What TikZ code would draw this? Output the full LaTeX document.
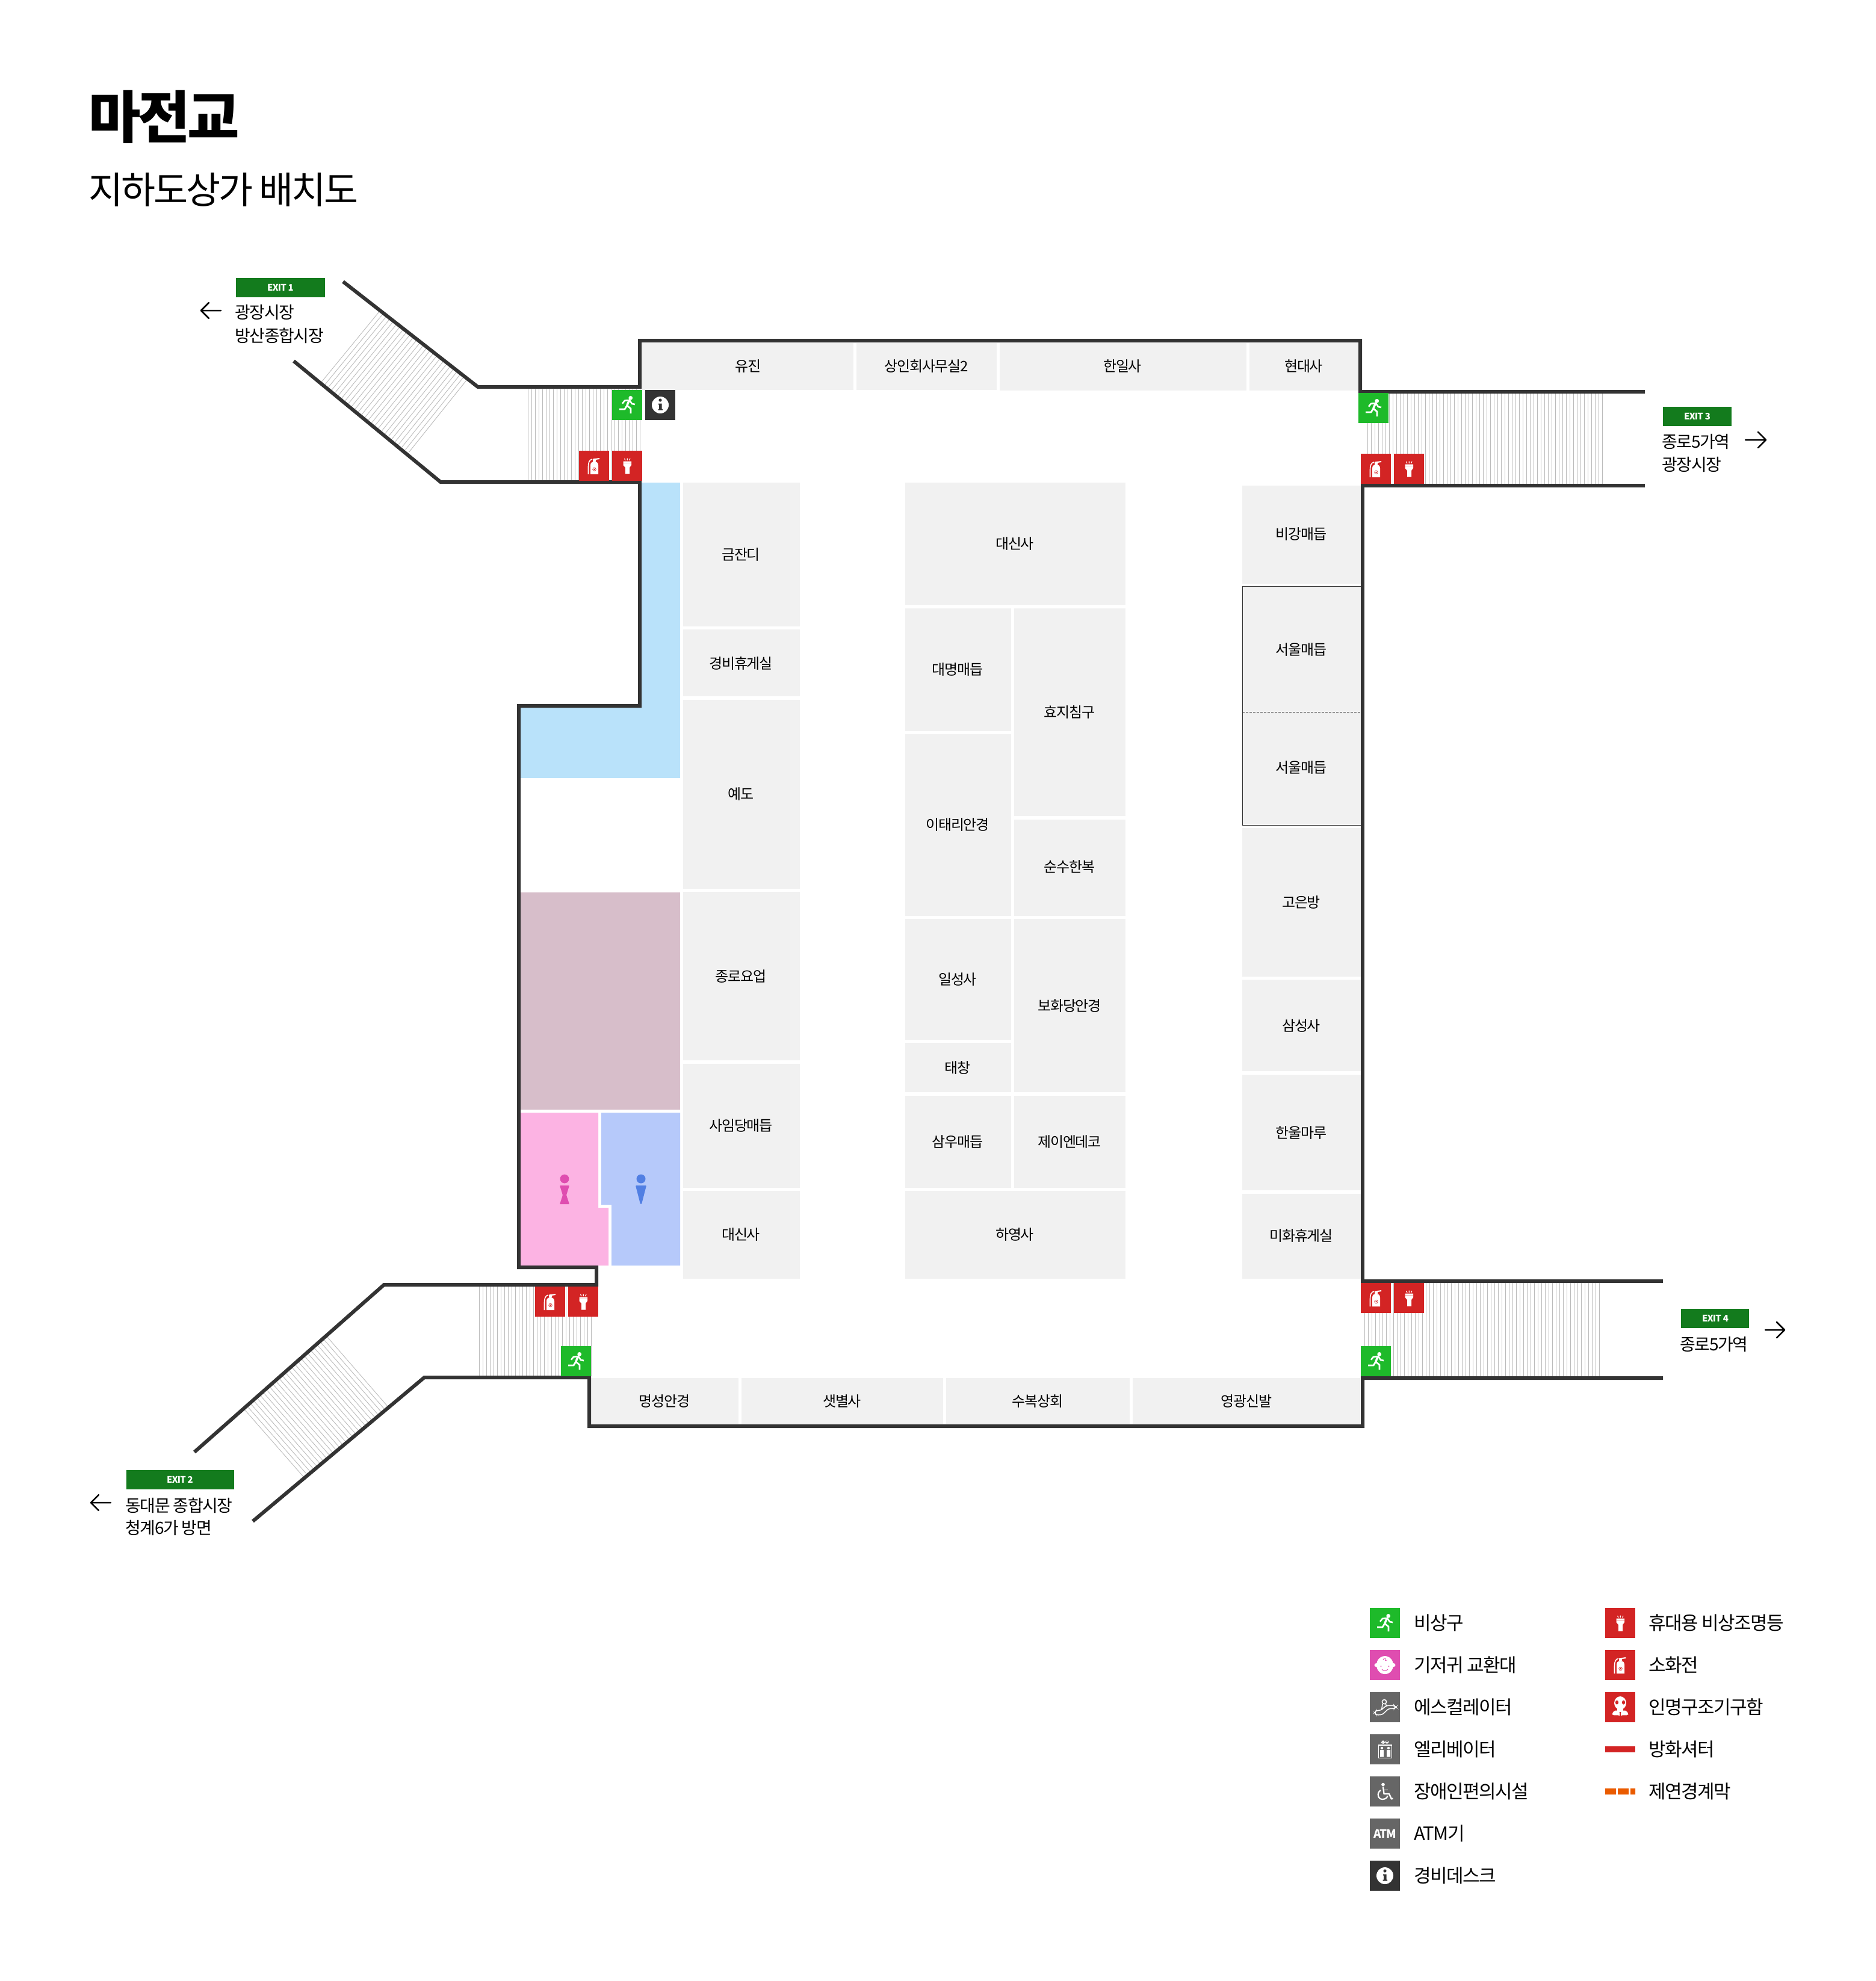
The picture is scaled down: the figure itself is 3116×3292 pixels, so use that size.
\documentclass[tikz,border=0pt]{standalone}
\usepackage{fontspec}
\setmainfont[LetterSpace=-5]{Noto Sans CJK KR}
\newfontfamily\blackfont[LetterSpace=-5]{Noto Sans CJK KR Black}
\definecolor{wallc}{HTML}{333333}
\definecolor{cellc}{HTML}{F1F1F1}
\definecolor{skyc}{HTML}{B9E2FA}
\definecolor{mauvec}{HTML}{D7BECA}
\definecolor{pinkc}{HTML}{FCB3E3}
\definecolor{wcbluec}{HTML}{B6C9FA}
\definecolor{magc}{HTML}{DF4DB0}
\definecolor{manc}{HTML}{517FE3}
\definecolor{exitc}{HTML}{137B1D}
\definecolor{greenc}{HTML}{1EBA2A}
\definecolor{redc}{HTML}{D32424}
\definecolor{greyc}{HTML}{666666}
\definecolor{orangec}{HTML}{EA5B00}
\definecolor{stripec}{HTML}{BBBBBB}
\newcounter{lblno}
\newcommand\cellbox[7]{%
  \fill[cellc] (#1,#2) rectangle (#3,#4);
  \stepcounter{lblno}\node[celltext] (c\arabic{lblno}) at (#5,#6) {#7};}
\usetikzlibrary{arrows.meta}
\tikzset{
  x=.5pt,y=-.5pt,
  wall/.style={draw=wallc,line width=3pt,line cap=butt,line join=miter},
  stripeline/.style={draw=stripec,line width=.45pt},
  celltext/.style={font=\fontsize{12}{12}\selectfont,inner sep=0pt,text height=10.56pt,text depth=.96pt,text=black},
  exittext/.style={font=\fontsize{14}{14}\selectfont,inner sep=0pt,text height=12.32pt,text depth=1.12pt,anchor=west,text=black},
  legendtext/.style={font=\fontsize{15.5}{15.5}\selectfont,inner sep=0pt,text height=13.64pt,text depth=1.24pt,anchor=west,text=black},
  exitbadge/.style={font=\bfseries\fontsize{7.5}{7.5}\selectfont,text=white,inner sep=0pt,text height=5.5pt,text depth=0pt},
  navarrow/.style={draw=black,line width=1.25pt,line cap=round,line join=round},
  pics/runner/.style={code={
    \fill[greenc] (0,0) rectangle (50,50);
    \fill[white] (30.7,13.3) circle[radius=3.4];
    \draw[white,line width=1.3pt,line join=round] (38,24)--(33,23)--(29,17)--(21,17.7)--(17,22.7);
    \draw[white,line width=1.7pt] (28.5,17)--(24.7,26);
    \draw[white,line width=1.4pt,line join=round] (24.7,26)--(31,31)--(31,39);
    \draw[white,line width=1.4pt,line join=round] (24.7,26)--(21,32)--(12,32);
  }},
  pics/fireext/.style={code={
    \fill[redc] (0,0) rectangle (50,50);
    \fill[white] (19,39)--(19,24) .. controls (19,20) and (22,18) .. (25.5,18) .. controls (29,18) and (32,20) .. (32,24)--(32,39)--cycle;
    \draw[white,line width=.8pt] (22,14) .. controls (17,15) and (15.5,20) .. (15.5,26)--(15.5,39);
    \fill[white] (23,13.5)--(34,12)--(34,14)--(28,15)--(28,18)--(23,18)--cycle;
    \draw[redc,line width=.3pt] (25.5,31) circle[radius=2.8];
    \fill[redc] (25.5,31) circle[radius=1.3];
  }},
  pics/torch/.style={code={
    \fill[redc] (0,0) rectangle (50,50);
    \fill[white] (18.5,17.5)--(32,17.5)--(32,24)--(29,28)--(29,38.7)--(22,38.7)--(22,28)--(18.5,24)--cycle;
    \draw[redc!40,line width=.5pt] (18.5,20)--(32,20);
    \draw[white,line width=.6pt] (25.2,12.5)--(25.2,16) (20.5,13)--(22,16) (30,13)--(28.5,16);
  }},
  pics/infobox/.style={code={
    \fill[wallc] (0,0) rectangle (50,50);
    \fill[white] (25,25) circle[radius=14];
    \fill[wallc] (25,17) circle[radius=2.6];
    \fill[wallc] (22,22.5) rectangle (27.5,24.5) (23,22.5) rectangle (27.5,33) (21.5,31.5) rectangle (29,33.5);
  }},
  pics/babyface/.style={code={
    \fill[magc] (0,0) rectangle (50,50);
    \fill[white] (10.5,25) circle[radius=3] (39.5,25) circle[radius=3];
    \fill[white] (25,25) ellipse[x radius=14,y radius=15];
    \fill[magc] (18.5,27) circle[radius=1.1] (31.5,27) circle[radius=1.1];
    \draw[magc,line width=.5pt] (20,32) .. controls (22,35) and (28,35) .. (30,32);
    \draw[magc,line width=.4pt] (22,16) .. controls (23,13) and (28,14) .. (26,16) .. controls (24,18) and (28,18) .. (29,16.5);
  }},
  pics/escal/.style={code={
    \fill[greyc] (0,0) rectangle (50,50);
    \draw[white,line width=.75pt] (24,16) circle[radius=3.6];
    \draw[white,line width=.75pt,line join=round] (21,20)--(19.5,29.5) (26.5,20)--(27.3,22.3);
    \draw[white,line width=.75pt,rounded corners=1.5pt] (10.7,30.3)--(18,30.3)--(27.3,22.3)--(40.7,22.3)--(43,24.7)--(40.7,27.3)--(31.3,27.3)--(20.7,37.3)--(10.7,38)--(8,34)--cycle;
  }},
  pics/elevbox/.style={code={
    \fill[greyc] (0,0) rectangle (50,50);
    \draw[white,line width=.7pt] (14.7,18) rectangle (36.3,39.7);
    \fill[white] (20,23) circle[radius=2.2] (31,23) circle[radius=2.2];
    \fill[white] (17,26) rectangle (23,37.5) (28,26) rectangle (34,37.5);
    \draw[white,line width=.7pt,-{Straight Barb[length=1.5pt,width=3pt]}] (22,16)--(22,10);
    \draw[white,line width=.7pt,-{Straight Barb[length=1.5pt,width=3pt]}] (28.5,10)--(28.5,16);
  }},
  pics/wheelch/.style={code={
    \fill[greyc] (0,0) rectangle (50,50);
    \fill[white] (22,13.5) circle[radius=2.8];
    \draw[white,line width=1.2pt,line join=round] (22,17)--(23.5,29)--(32,29)--(36,37.5)--(38.5,36.5);
    \draw[white,line width=.7pt] (23,22.5)--(30,22.5);
    \draw[white,line width=1.1pt] (18,23) .. controls (11,27) and (13,38) .. (21,38) .. controls (26,38) and (29,35) .. (29.5,32);
  }},
  pics/atmbox/.style={code={
    \fill[greyc] (0,0) rectangle (50,50);
    \node[font=\bfseries\fontsize{9.5}{9.5}\selectfont,text=white,inner sep=0pt] (atmglyph) at (25,25) {ATM};
  }},
  pics/maskbox/.style={code={
    \fill[redc] (0,0) rectangle (50,50);
    \fill[white] (25,18) ellipse[x radius=10,y radius=11];
    \fill[white] (20,25) rectangle (30,33);
    \fill[white] (11.5,37) .. controls (12,31) and (20,27) .. (24,34) -- (24,39) .. controls (20,37) and (15,40) .. (11.5,37) -- cycle;
    \fill[white] (38.5,37) .. controls (38,31) and (30,27) .. (26,34) -- (26,39) .. controls (30,37) and (35,40) .. (38.5,37) -- cycle;
    \fill[redc] (19.5,17) ellipse[x radius=2.6,y radius=3.5] (30.5,17) ellipse[x radius=2.6,y radius=3.5];
  }},
}
\begin{document}
\begin{tikzpicture}
\useasboundingbox (0,0) rectangle (3116,3292);
\fill[white] (0,0) rectangle (3116,3292);
% title
\node[anchor=west,inner sep=0pt,text height=41.4pt,text depth=3.8pt,font=\blackfont\fontsize{47}{47}\selectfont] (title) at (147,192) {마전교};
\node[anchor=west,inner sep=0pt,text height=27.3pt,text depth=2.5pt,font=\fontsize{31}{31}\selectfont] (subtitle) at (147,314) {지하도상가 배치도};
% coloured rooms
\fill[skyc] (1066,802) rectangle (1130,1293);
\fill[skyc] (865,1176) rectangle (1130,1293);
\fill[mauvec] (865,1483) rectangle (1130,1844);
\fill[pinkc] (865,1849)--(994,1849)--(994,2007)--(1011,2007)--(1011,2103)--(865,2103)--cycle;
\fill[wcbluec] (999,1849)--(1130,1849)--(1130,2103)--(1016,2103)--(1016,2002)--(999,2002)--cycle;
\fill[magc] (938,1959) circle[radius=7.4];
\fill[magc,rounded corners=.5pt] (930,1970)--(946,1970)--(941,1986)--(946,2001)--(930,2001)--(935,1986)--cycle;
\fill[manc] (1065,1959) circle[radius=7.5];
\fill[manc,rounded corners=.5pt] (1056,1970)--(1074,1970)--(1066,2001)--(1064,2001)--cycle;
% top row
\cellbox{1066}{570}{1418}{648}{1243}{608}{유진}
\cellbox{1423}{570}{1656}{648}{1539}{608}{상인회사무실2}
\cellbox{1661}{570}{2071}{649}{1865}{608}{한일사}
\cellbox{2076}{570}{2257}{649}{2166}{608}{현대사}
% column A
\cellbox{1135}{802}{1329}{1041}{1231}{921}{금잔디}
\cellbox{1135}{1046}{1329}{1157}{1231}{1102}{경비휴게실}
\cellbox{1135}{1163}{1329}{1477}{1231}{1319}{예도}
\cellbox{1135}{1482}{1329}{1762}{1231}{1622}{종로요업}
\cellbox{1135}{1768}{1329}{1974}{1231}{1870}{사임당매듭}
\cellbox{1135}{1979}{1329}{2125}{1231}{2051}{대신사}
% column B
\cellbox{1504}{802}{1870}{1005}{1686}{903}{대신사}
\cellbox{1504}{1011}{1680}{1215}{1591}{1112}{대명매듭}
\cellbox{1504}{1220}{1680}{1522}{1591}{1370}{이태리안경}
\cellbox{1685}{1011}{1870}{1356}{1777}{1183}{효지침구}
\cellbox{1685}{1362}{1870}{1522}{1777}{1440}{순수한복}
\cellbox{1504}{1527}{1680}{1728}{1591}{1627}{일성사}
\cellbox{1504}{1733}{1680}{1815}{1591}{1774}{태창}
\cellbox{1685}{1527}{1870}{1815}{1777}{1671}{보화당안경}
\cellbox{1504}{1821}{1680}{1974}{1591}{1897}{삼우매듭}
\cellbox{1685}{1821}{1870}{1974}{1777}{1897}{제이엔데코}
\cellbox{1504}{1979}{1870}{2125}{1686}{2051}{하영사}
% column C
\cellbox{2064}{807}{2261}{970}{2162}{887}{비강매듭}
\fill[cellc,draw=wallc,line width=.5pt] (2064,974) rectangle (2261,1371);
\draw[wallc,line width=.5pt,dash pattern=on 2pt off 1pt] (2064,1183)--(2261,1183);
\node[celltext] (seoul1) at (2162,1079) {서울매듭};
\node[celltext] (seoul2) at (2162,1275) {서울매듭};
\cellbox{2064}{1376}{2261}{1623}{2162}{1499}{고은방}
\cellbox{2064}{1628}{2261}{1780}{2162}{1704}{삼성사}
\cellbox{2064}{1786}{2261}{1978}{2162}{1882}{한울마루}
\cellbox{2064}{1984}{2261}{2125}{2162}{2053}{미화휴게실}
% bottom row
\cellbox{982}{2290}{1227}{2366}{1104}{2328}{명성안경}
\cellbox{1232}{2290}{1567}{2366}{1399}{2328}{샛별사}
\cellbox{1572}{2290}{1877}{2366}{1724}{2328}{수복상회}
\cellbox{1882}{2290}{2260}{2366}{2071}{2328}{영광신발}
% stairs
\foreach \sx in {877,883,...,1063} {\draw[stripeline] (\sx,647)--(\sx,798);}
\foreach \sx in {796,802,...,982} {\draw[stripeline] (\sx,2138)--(\sx,2287);}
\foreach \sx in {2272,2278,...,2663} {\draw[stripeline] (\sx,654)--(\sx,804);}
\foreach \sx in {2267,2273,...,2658} {\draw[stripeline] (\sx,2132)--(\sx,2287);}
\foreach \t in {0,1,...,26} {
  \draw[stripeline] ({630+145*\t/26},{518+114*\t/26})--({534+145*\t/26},{635+117*\t/26});
  \draw[stripeline] ({544-138*\t/26},{2222+120*\t/26})--({644-139*\t/26},{2337+118*\t/26});
}
% walls
\draw[wall] (570,468)--(794,643)--(1063,643)--(1063,566)--(2260,566)--(2260,651)--(2733,651);
\draw[wall] (488,600)--(732,801)--(1063,801)--(1063,1173)--(862,1173)--(862,2106)--(991,2106)--(991,2135)--(638,2135)--(323,2413);
\draw[wall] (2733,807)--(2264,807)--(2264,2129)--(2763,2129);
\draw[wall] (2763,2290)--(2264,2290)--(2264,2370)--(979,2370)--(979,2289)--(705,2289)--(420,2528);
% plan icons
\pic at (1017,648) {runner};
\pic at (1072,648) {infobox};
\pic at (962,749) {fireext};
\pic at (1017,749) {torch};
\pic at (2257,653) {runner};
\pic at (2261,754) {fireext};
\pic at (2316,754) {torch};
\pic at (889,2138) {fireext};
\pic at (944,2138) {torch};
\pic at (932,2237) {runner};
\pic at (2261,2132) {fireext};
\pic at (2316,2132) {torch};
\pic at (2261,2237) {runner};
% exit 1
\fill[exitc] (392,462) rectangle (540,494);
\node[exitbadge] (exit1) at (466,478) {EXIT 1};
\node[exittext] (e1a) at (390,518) {광장시장};
\node[exittext] (e1b) at (390,557) {방산종합시장};
\draw[navarrow] (367,516)--(334,516) (347,503)--(334,516)--(347,529);
% exit 2
\fill[exitc] (210,2443) rectangle (389,2475);
\node[exitbadge] (exit2) at (299,2459) {EXIT 2};
\node[exittext] (e2a) at (208,2501) {동대문 종합시장};
\node[exittext] (e2b) at (208,2538) {청계6가 방면};
\draw[navarrow] (184,2497)--(151,2497) (164,2484)--(151,2497)--(164,2510);
% exit 3
\fill[exitc] (2763,676) rectangle (2877,708);
\node[exitbadge] (exit3) at (2820,692) {EXIT 3};
\node[exittext] (e3a) at (2761,733) {종로5가역};
\node[exittext] (e3b) at (2761,771) {광장시장};
\draw[navarrow] (2900,731)--(2934,731) (2921,718)--(2934,731)--(2921,744);
% exit 4
\fill[exitc] (2793,2175) rectangle (2906,2207);
\node[exitbadge] (exit4) at (2850,2191) {EXIT 4};
\node[exittext] (e4a) at (2791,2233) {종로5가역};
\draw[navarrow] (2933,2210)--(2965,2210) (2952,2197)--(2965,2210)--(2952,2223);
% legend, left
\pic at (2276,2672) {runner};
\node[legendtext] (l1) at (2349,2696) {비상구};
\pic at (2276,2742) {babyface};
\node[legendtext] (l2) at (2349,2766) {기저귀 교환대};
\pic at (2276,2812) {escal};
\node[legendtext] (l3) at (2349,2836) {에스컬레이터};
\pic at (2276,2882) {elevbox};
\node[legendtext] (l4) at (2349,2906) {엘리베이터};
\pic at (2276,2952) {wheelch};
\node[legendtext] (l5) at (2349,2976) {장애인편의시설};
\pic at (2276,3022) {atmbox};
\node[legendtext] (l6) at (2349,3046) {ATM기};
\pic at (2276,3092) {infobox};
\node[legendtext] (l7) at (2349,3116) {경비데스크};
% legend, right
\pic at (2667,2672) {torch};
\node[legendtext] (r1) at (2739,2696) {휴대용 비상조명등};
\pic at (2667,2742) {fireext};
\node[legendtext] (r2) at (2739,2766) {소화전};
\pic at (2667,2812) {maskbox};
\node[legendtext] (r3) at (2739,2836) {인명구조기구함};
\fill[redc] (2667,2902) rectangle (2717,2912);
\node[legendtext] (r4) at (2739,2906) {방화셔터};
\fill[orangec] (2667,2972) rectangle (2685,2982) (2688,2972) rectangle (2706,2982) (2709,2972) rectangle (2717,2982);
\node[legendtext] (r5) at (2739,2976) {제연경계막};
\end{tikzpicture}
\end{document}
